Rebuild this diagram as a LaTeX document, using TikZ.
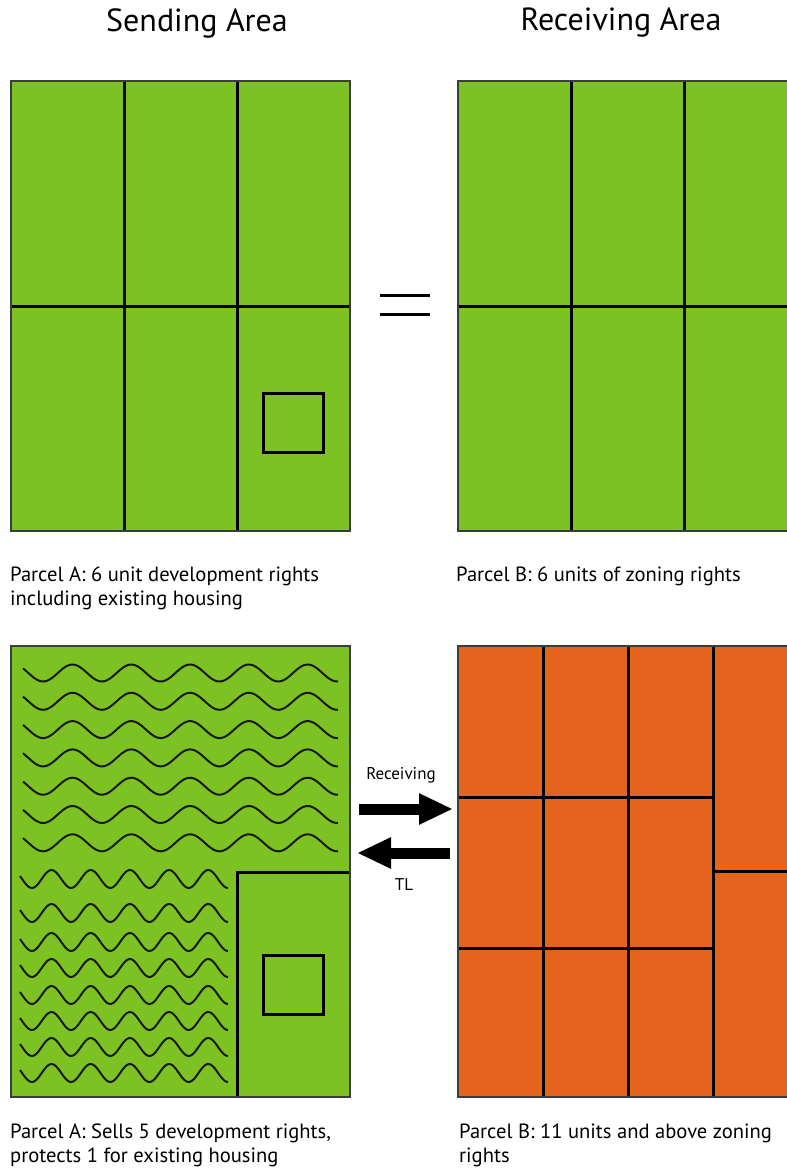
\documentclass[tikz,border=0pt]{standalone}
\usepackage{fontspec}
\setmainfont{PT Sans}
\usetikzlibrary{arrows.meta}
\definecolor{grass}{HTML}{7DC223}
\definecolor{rust}{HTML}{E5631C}
\definecolor{rim}{HTML}{3C3C3C}
\tikzset{
  parcel/.style={draw=rim,line width=1.2pt},
  split/.style={draw=black,line width=3pt},
  house/.style={draw=black,line width=3pt},
  wave/.style={draw=black!90,line width=2pt},
  fatarrow/.style={line width=11pt,-{Triangle[length=34pt,width=29pt]}},
  heading/.style={font=\fontsize{32}{38}\selectfont},
  caption/.style={font=\fontsize{20.6}{24}\selectfont,align=left,anchor=north west,inner sep=0pt},
  flowlabel/.style={font=\fontsize{17}{20}\selectfont,inner sep=0pt}}

\begin{document}
\begin{tikzpicture}[x=1pt,y=-1pt]
\useasboundingbox(0,0)rectangle(787,1171);
\fill[white](0,0)rectangle(787,1171);
% top row: before transfer
\node[heading](sendhead)at(197,23){Sending Area};
\node[heading](recvhead)at(621,23){Receiving Area};
\fill[grass](11,81)rectangle(350,531);
\foreach \x in {124,237}{\draw[split](\x,81)--(\x,531);}
\draw[split](11,306)--(350,306);
\draw[house](263,393)rectangle(323,452);
\draw[parcel](11,81)rectangle(350,531);
\fill[grass](458,81)rectangle(790,531);
\foreach \x in {571,684}{\draw[split](\x,81)--(\x,531);}
\draw[split](458,306)--(790,306);
\draw[parcel](458,81)rectangle(790,531);
\foreach \y in {295,314}{\draw[line width=3pt](380,\y)--(430,\y);}
\node[caption](capA)at(10,567){Parcel A: 6 unit development rights\\including existing housing};
\node[caption](capB)at(456,567){Parcel B: 6 units of zoning rights};
% bottom row: after transfer
\fill[grass](11,646)rectangle(350,1097);
\foreach \k in {0,...,6}{\draw[wave]plot[domain=23:338,samples=140](\x,{673+28.3*\k-8.5*cos(6.1224*(\x-72.5))});}
\foreach \m in {879,913,942,968,995,1021,1047,1073}{\draw[wave]plot[domain=20:228,samples=110](\x,{\m-9*cos(9.1837*(\x-51.5))});}
\draw[split](237,1097)|-(350,872);
\draw[house](263,955)rectangle(323,1014);
\draw[parcel](11,646)rectangle(350,1097);
\fill[rust](458,646)rectangle(790,1097);
\foreach \x in {543,628,713}{\draw[split](\x,646)--(\x,1097);}
\foreach \y in {797,948}{\draw[split](458,\y)--(713,\y);}
\draw[split](713,871)--(790,871);
\draw[parcel](458,646)rectangle(790,1097);
\coordinate(rcvtail)at(359,809);\coordinate(rcvtip)at(453,809);
\coordinate(tltail)at(450,853);\coordinate(tltip)at(357,853);
\draw[fatarrow](rcvtail)--(rcvtip);
\draw[fatarrow](tltail)--(tltip);
\node[flowlabel](rcvlabel)at(401,775){Receiving};
\node[flowlabel](tllabel)at(404,885){TL};
\node[caption](capA2)at(10,1124){Parcel A: Sells 5 development rights,\\protects 1 for existing housing};
\node[caption](capB2)at(459,1124){Parcel B: 11 units and above zoning\\rights};
\end{tikzpicture}
\end{document}
